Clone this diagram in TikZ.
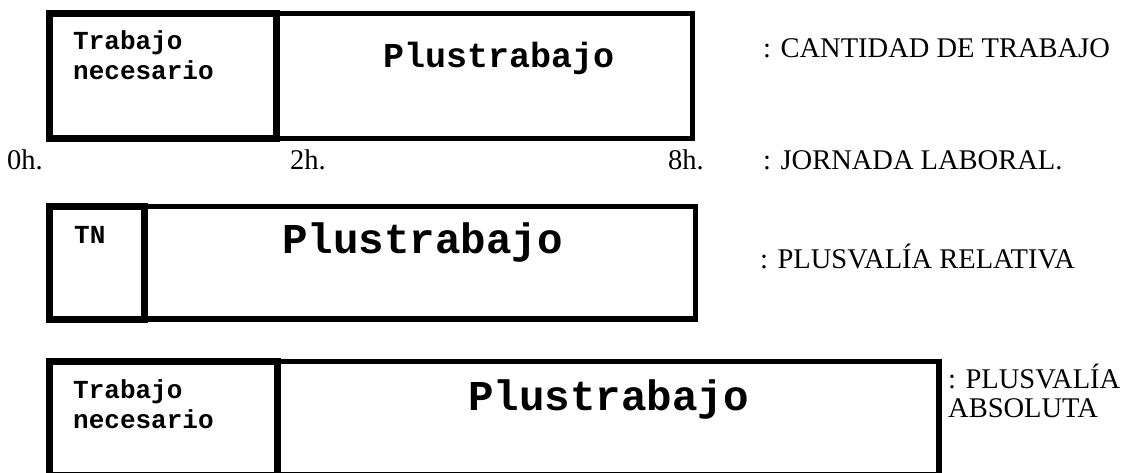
\documentclass[tikz,border=0pt]{standalone}
\usepackage{fontspec}
\setmainfont{Liberation Serif}
\newfontfamily\boxfont{Liberation Mono}
\usetikzlibrary{positioning}

\begin{document}
\begin{tikzpicture}[
    x=1pt, y=-1pt,
    necbox/.style={draw, line width=7pt},
    plusbox/.style={draw, line width=5.5pt},
    monosmall/.style={anchor=base west, inner sep=0pt, align=left, font=\boxfont\bfseries\fontsize{26}{30}\selectfont},
    monomid/.style={anchor=base west, inner sep=0pt, font=\boxfont\bfseries\fontsize{35}{40}\selectfont},
    monobig/.style={anchor=base west, inner sep=0pt, font=\boxfont\bfseries\fontsize{42.5}{48}\selectfont},
    sidetext/.style={anchor=base west, inner sep=0pt, align=left, font=\fontsize{28.5}{29}\selectfont}
]
\clip (0,0) rectangle (1132,473);

% -------------------------
% CANTIDAD DE TRABAJO
% -------------------------
\draw[plusbox] (276.5,13.5) rectangle (692.5,138.5);
\draw[necbox] (49.5,13.5) rectangle (276.5,138.5);
\node[monosmall] (nec1) at (73,80) {Trabajo\\necesario};
\node[monomid] (plus1) at (383,68) {Plustrabajo};
\node[sidetext] (cant) at (763,58) {: CANTIDAD DE TRABAJO};

% hours of the working day
\node[sidetext] (h0) at (7,170) {0h.};
\node[sidetext] (h2) at (290,170) {2h.};
\node[sidetext] (h8) at (668,170) {8h.};
\node[sidetext] (jorn) at (763,170) {: JORNADA LABORAL.};

% -------------------------
% PLUSVALIA RELATIVA
% -------------------------
\draw[plusbox] (144,206.5) rectangle (695.5,319);
\draw[necbox] (49.5,206.5) rectangle (144,319);
\node[monosmall] (tn) at (74,243) {TN};
\node[monobig] (plus2) at (282,253) {Plustrabajo};
\node[sidetext] (rel) at (760,268) {: PLUSVALÍA RELATIVA};

% -------------------------
% PLUSVALIA ABSOLUTA
% -------------------------
\draw[plusbox] (277.5,361.5) rectangle (939,475);
\draw[necbox] (49.5,361.5) rectangle (277.5,475);
\node[monosmall] (nec3) at (73,428) {Trabajo\\necesario};
\node[monobig] (plus3) at (468,410) {Plustrabajo};
\node[sidetext] (abs) at (948,417) {: PLUSVALÍA\\ABSOLUTA};

\end{tikzpicture}
\end{document}
